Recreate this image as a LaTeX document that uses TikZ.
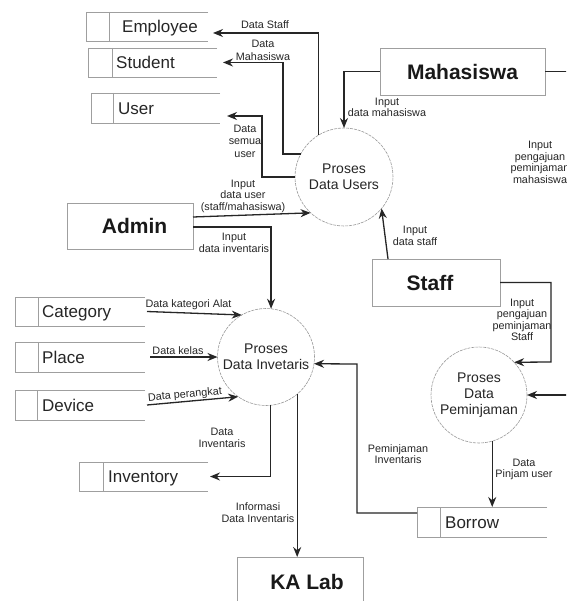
\documentclass[tikz,border=0pt]{standalone}
\usepackage{fontspec}
\setmainfont{Liberation Sans}
\usetikzlibrary{arrows.meta,calc}
\tikzset{
  storebox/.style={draw=none, rectangle, inner sep=0pt, outer sep=0pt},
  storeline/.style={draw=gray!75, line width=0.8pt},
  storetext/.style={inner sep=0pt, text=black!85, font=\fontsize{17}{20}\selectfont},
  entity/.style={rectangle, draw=gray!75, line width=0.9pt, inner sep=0pt, outer sep=0pt, text=black!90, font=\fontsize{21}{24}\selectfont\bfseries},
  proc/.style={circle, draw=gray!80, line width=0.6pt, dash pattern=on 3pt off 1pt, inner sep=0pt, outer sep=0pt, align=center, text=black!85, font=\fontsize{14}{16}\selectfont},
  lab/.style={inner sep=0pt, align=center, text=black!85, font=\fontsize{10.8}{11.5}\selectfont},
  arr/.style={draw=black!85, line width=1.3pt, -{Stealth[length=10pt,width=8pt]}},
  ln/.style={draw=black!85, line width=1.3pt}
}
\newcommand\dfdstore[8]{%
  \node[storebox, minimum width={#4-#2}, minimum height={#6-#5}] (#1) at ({(#2+#4)/2},{(#5+#6)/2}) {};
  \draw[storeline] (#1.north east) -- (#1.north west) -- (#1.south west) -- (#1.south east);
  \draw[storeline] (#3,#5) -- (#3,#6);
  \node[storetext, anchor=base west] (#1-t) at (#7,#6-8.5) {#8};
}
\begin{document}
\begin{tikzpicture}[x=1pt,y=-1pt]
\useasboundingbox (0,0) rectangle (566,601);
\fill[white] (0,0) rectangle (566,601);
\clip (0,0) rectangle (566,601);

% data stores
\dfdstore{emp}{86}{109}{208}{12}{41}{122}{Employee}
\dfdstore{stu}{88}{112}{217}{48}{77}{116}{Student}
\dfdstore{usr}{91}{113}{220}{93}{123}{118}{User}
\dfdstore{cat}{15}{38}{145}{297}{326}{42}{Category}
\dfdstore{plc}{15}{38}{145}{342}{372}{42}{Place}
\dfdstore{dev}{15}{37}{145}{390}{420}{42}{Device}
\dfdstore{ivt}{79}{103}{208}{462}{491}{108}{Inventory}
\dfdstore{brw}{417}{440}{547}{507}{537}{445}{Borrow}

% entities
\node[entity, minimum width=165, minimum height=47] (mhs) at (462.5,71.5) {Mahasiswa};
\node[entity, minimum width=126, minimum height=46] (adm) at (130,226) {\hspace*{9pt}Admin};
\node[entity, minimum width=128, minimum height=47] (stf) at (436,282.5) {Staff\hspace*{12pt}};
\node[entity, minimum width=126, minimum height=50] (kal) at (300,582) {\hspace*{14pt}KA Lab};

% processes
\node[proc, minimum size=98] (pus) at (344,177) {Proses\\Data Users};
\node[proc, minimum size=97] (pin) at (266,357) {Proses\\Data Invetaris};
\node[proc, minimum size=96] (ppj) at (479,395) {Proses\\Data\\Peminjaman};

\coordinate (mout) at (575,71.5);
\coordinate (rin) at (575,395);

% connectors
\draw[arr] (pus.121) |- ([xshift=5pt,yshift=8pt]emp.south east);
\draw[arr] (pus.152) -| (283,62.5) -- ([xshift=6pt]stu.east);
\draw[arr] (pus.180) -| (262,116) -- ([xshift=7pt,yshift=7pt]usr.south east);
\draw[arr] (mhs.west) -| (pus.north);
\draw[ln] (mhs.east) -- (mout);
\draw[arr] ([yshift=9pt]adm.east) -- (pus.227);
\draw[arr] ([yshift=-1pt]adm.east) -| (pin.84);
\draw[arr] ([xshift=16pt]stf.north west) -- (pus.-40);
\draw[arr] (stf.east) -| (551,362) -- (ppj.43);
\draw[arr] (rin) -- (ppj.east);
\draw[arr] (ppj.-74) -- (ppj.-74 |- brw.north);
\draw[arr] ([yshift=9pt]brw.west) -| (357,364) -- (pin.-8);
\draw[arr] ([xshift=2pt]cat.east) -- (pin.120);
\draw[arr] ([xshift=5pt]plc.east) -- (pin.180);
\draw[arr] ([xshift=2pt]dev.east) -- (pin.235);
\draw[arr] (pin.-85) |- ([xshift=2pt]ivt.east);
\draw[arr] (pin.-50) -- (pin.-50 |- kal.north);

% labels
\node[lab] (l1) at (265,25) {Data Staff};
\node[lab, font=\fontsize{10.8}{13}\selectfont] (l2) at (263,50.5) {Data\\Mahasiswa};
\node[lab, font=\fontsize{10.8}{12.5}\selectfont] (l3) at (245,141) {Data\\semua\\user};
\node[lab] (l4) at (387,107.5) {Input\\data mahasiswa};
\node[lab] (l5) at (540,162.5) {Input\\pengajuan\\peminjaman\\mahasiswa};
\node[lab] (l6) at (243,196) {Input\\data user\\(staff/mahasiswa)};
\node[lab] (l7) at (234,243) {Input\\data inventaris};
\node[lab] (l8) at (415,236) {Input\\data staff};
\node[lab] (l9) at (522,320) {Input\\pengajuan\\peminjaman\\Staff};
\node[lab] (l10) at (188.5,305) {Data kategori Alat};
\node[lab] (l11) at (178,351) {Data kelas};
\node[lab, rotate=5] (l12) at (185,395) {Data perangkat};
\node[lab] (l13) at (222,438) {Data\\Inventaris};
\node[lab] (l14) at (258,512.5) {Informasi\\Data Inventaris};
\node[lab] (l15) at (398,454) {Peminjaman\\Inventaris};
\node[lab] (l16) at (524,469.5) {Data\\Pinjam user};
\end{tikzpicture}
\end{document}
